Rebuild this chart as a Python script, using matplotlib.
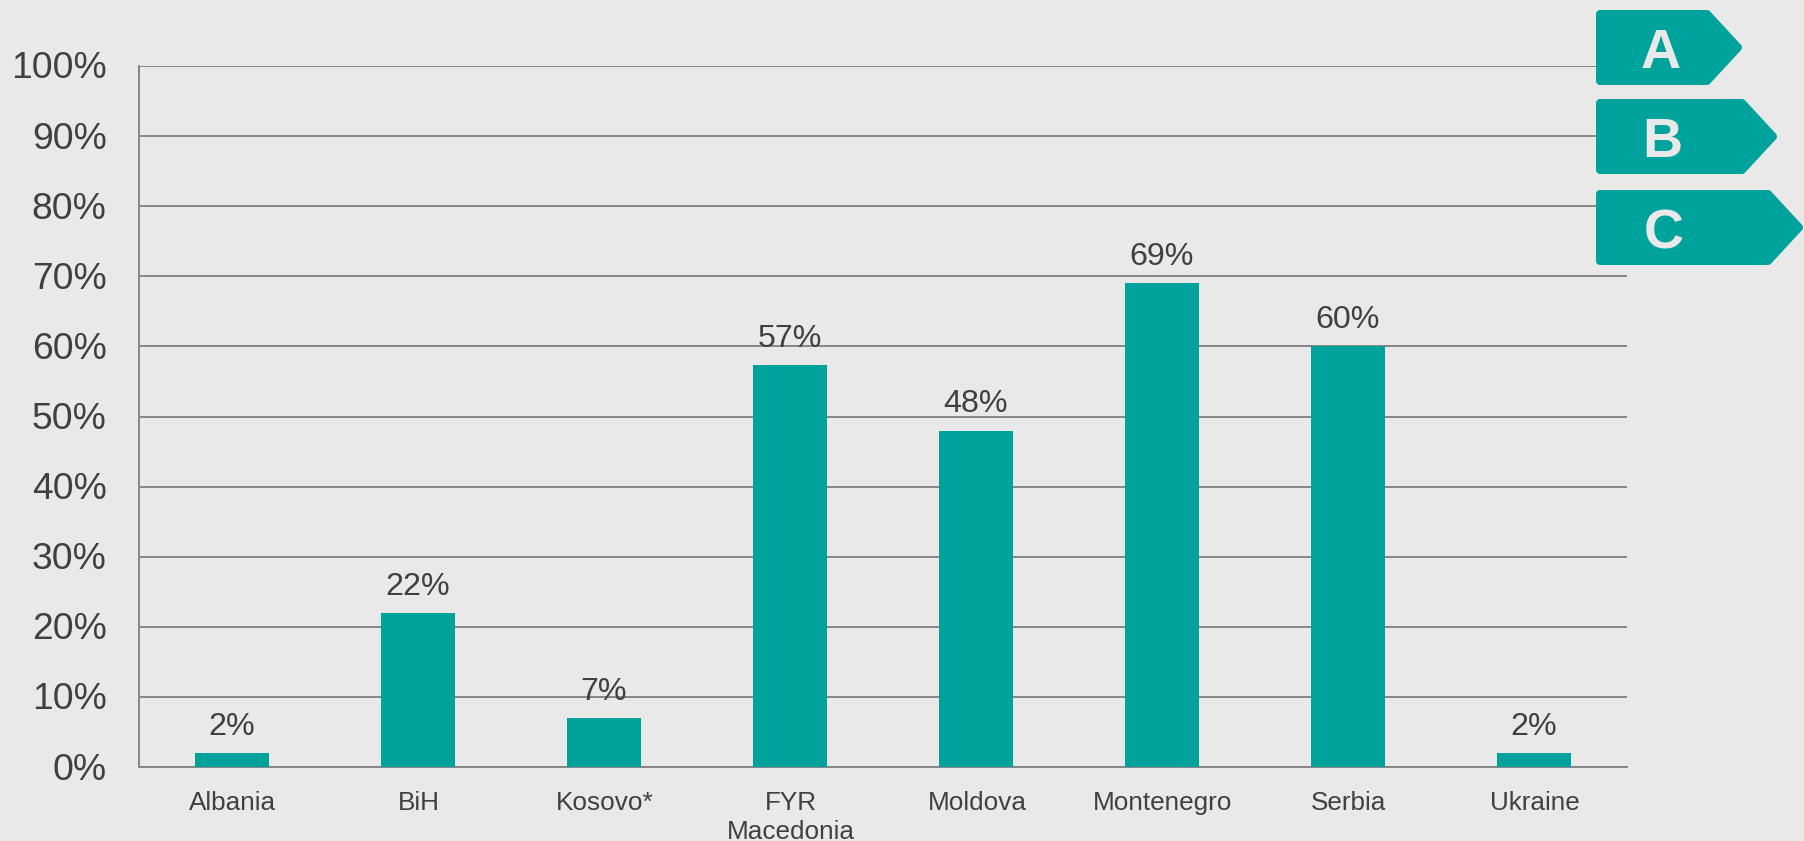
import matplotlib
matplotlib.use('Agg')
import matplotlib.pyplot as plt
from matplotlib.patches import Polygon
from matplotlib.transforms import ScaledTranslation

plt.rcParams['font.family'] = ['Liberation Sans', 'DejaVu Sans']

# Data
countries = ['Albania', 'BiH', 'Kosovo*', 'FYR\nMacedonia', 'Moldova', 'Montenegro', 'Serbia', 'Ukraine']
shares = [2, 22, 7, 57.3, 48, 69, 60, 2]
share_labels = ['2%', '22%', '7%', '57%', '48%', '69%', '60%', '2%']
y_ticks = [0, 10, 20, 30, 40, 50, 60, 70, 80, 90, 100]
badge_letters = ['A', 'B', 'C']

BG = '#E9E9E9'
TEAL = '#00A39B'
TEXT = '#404040'
GRID = '#868686'
W, H = 1804, 841

fig = plt.figure(figsize=(W / 100, H / 100), dpi=100, facecolor=BG)
ax = fig.add_axes([139 / W, 1 - 767 / H, (1627 - 139) / W, (767 - 66) / H], facecolor=BG)

x = range(len(countries))
ax.bar(x, shares, width=0.4, color=TEAL, zorder=3)
for i, lab in enumerate(share_labels):
    ax.annotate(lab, (i, shares[i]), xytext=(0, 8), textcoords='offset points',
                ha='center', va='bottom', fontsize=23.2, color=TEXT, zorder=4)

ax.set_xlim(-0.5, 7.5)
ax.set_ylim(0, 100)
ax.set_yticks(y_ticks)
ax.set_yticklabels([f'{t}%' for t in y_ticks], fontsize=26.8, color=TEXT)
ax.set_xticks(list(x))
ax.set_xticklabels(countries, fontsize=18.8, color=TEXT, linespacing=1.3)
ax.tick_params(axis='both', length=0)
ax.tick_params(axis='y', pad=23.3)
ax.tick_params(axis='x', pad=17)
ax.grid(axis='y', color=GRID, lw=1.4, zorder=1)
ax.set_axisbelow(True)
for s in ['top', 'right']:
    ax.spines[s].set_visible(False)
for s in ['left', 'bottom']:
    ax.spines[s].set_color(GRID)
    ax.spines[s].set_linewidth(1.4)

# nudge the tick labels a little
nudge_y = ScaledTranslation(0, 1 / 100, fig.dpi_scale_trans)
for t in ax.get_yticklabels():
    t.set_transform(t.get_transform() + nudge_y)
nudge_x = ScaledTranslation(1 / 100, 0, fig.dpi_scale_trans)
for t in ax.get_xticklabels():
    t.set_transform(t.get_transform() + nudge_x)

# Energy label badges, in pixel coordinates of the figure
overlay = fig.add_axes([0, 0, 1, 1], facecolor='none')
overlay.set_xlim(0, W)
overlay.set_ylim(H, 0)
overlay.axis('off')
badge_boxes = [(1596, 1743, 10, 85), (1596, 1778, 99, 174), (1596, 1804, 190, 265)]
letter_x = [1661, 1662, 1664]
for letter, (x0, x1, y0, y1), lx in zip(badge_letters, badge_boxes, letter_x):
    r = 4
    mid = (y0 + y1) / 2
    pts = [(x0 + r, y0 + r), (x1 - 36, y0 + r), (x1 - r - 1, mid), (x1 - 36, y1 - r), (x0 + r, y1 - r)]
    overlay.add_patch(Polygon(pts, closed=True, facecolor=TEAL, edgecolor=TEAL, lw=r * 1.44,
                              joinstyle='round', clip_on=True))
    overlay.text(lx, y1 - 17, letter, ha='center', va='baseline', fontsize=40, fontweight='bold',
                 color=BG)

fig.savefig('out.png', dpi=100, facecolor=BG)
